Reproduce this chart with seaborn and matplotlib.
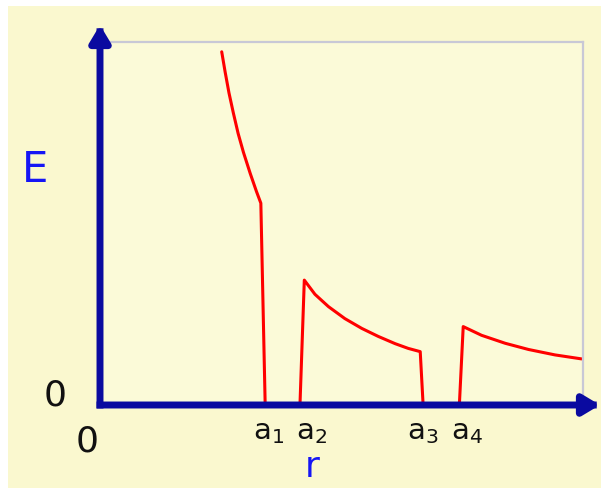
import numpy as np
import pandas as pd
import seaborn as sns
import matplotlib.pyplot as plt
from matplotlib.patches import Rectangle

sns.set_style("white")
plt.rcParams['font.family'] = ['DejaVu Sans']

# field profile (r, E), piecewise with drops to 0
r_vals = [2.52, 2.59, 2.67, 2.76, 2.86, 2.97, 3.11, 3.24, 3.33, 3.42,
          4.14, 4.23, 4.45, 4.73, 5.07, 5.42, 5.76, 6.11, 6.38, 6.63, 6.69,
          7.44, 7.52, 7.90, 8.39, 8.87, 9.42, 9.97]
E_vals = [9.73, 9.18, 8.60, 8.05, 7.48, 6.96, 6.38, 5.88, 5.56, 0.0,
          0.0, 3.44, 3.05, 2.71, 2.38, 2.11, 1.89, 1.69, 1.56, 1.47, 0.0,
          0.0, 2.16, 1.92, 1.70, 1.53, 1.38, 1.27]
tick_pos = [3.48, 4.37, 6.69, 7.60]
tick_labels = [r"$\mathregular{a_1}$", r"$\mathregular{a_2}$",
               r"$\mathregular{a_3}$", r"$\mathregular{a_4}$"]

df = pd.DataFrame({"r": r_vals, "E": E_vals})

navy = "#0A0AA0"
bright_blue = "#1515F5"

fig = plt.figure(figsize=(6.01, 4.88), dpi=100)
fig.patch.set_facecolor("white")
# yellow panel behind everything
fig.patches.append(Rectangle((8 / 601, 0), 1, 1 - 6 / 488, transform=fig.transFigure,
                             facecolor="#FAF8CF", edgecolor="none", zorder=-5))

ax = fig.add_axes([100 / 601, 1 - 405 / 488, 483 / 601, 363 / 488])
ax.set_facecolor("#FBFAD8")

sns.lineplot(data=df, x="r", y="E", sort=False, estimator=None,
             color="#FF0000", lw=2.2, ax=ax)

ax.set_xlim(0, 10)
ax.set_ylim(0, 10)

for s in ["top", "right"]:
    ax.spines[s].set_color("#C8C8D6")
    ax.spines[s].set_linewidth(1.6)
for s in ["left", "bottom"]:
    ax.spines[s].set_visible(False)

# axes drawn as arrows from the origin
arr = dict(arrowstyle="-|>,head_length=1.0,head_width=0.6", lw=5, color=navy,
           shrinkA=0, shrinkB=0, joinstyle="round", capstyle="projecting")
ax.annotate("", xy=(0, 1 + 17 / 363), xytext=(0, 0), xycoords="axes fraction",
            arrowprops=arr, annotation_clip=False, zorder=5)
ax.annotate("", xy=(1 + 17 / 483, 0), xytext=(0, 0), xycoords="axes fraction",
            arrowprops=arr, annotation_clip=False, zorder=5)

ax.set_xticks(tick_pos, tick_labels, fontsize=21, color="#111111")
ax.tick_params(axis="x", length=0, pad=9)
ax.set_yticks([0], ["0"], fontsize=26, color="#111111")
ax.tick_params(axis="y", length=0, pad=24)
for lab in ax.get_yticklabels():
    lab.set_va("baseline")

ax.text(-13 / 483, -37 / 363, "0", transform=ax.transAxes, fontsize=26,
        color="#111111", ha="center", va="center")

ax.set_xlabel("r", fontsize=26, color=bright_blue, va="baseline")
ax.xaxis.set_label_coords(0.439, -72 / 363)
ax.set_ylabel("E", fontsize=30, color=bright_blue, rotation=0)
ax.yaxis.set_label_coords(-0.135, 0.59)

fig.savefig("out.png", dpi=100)
